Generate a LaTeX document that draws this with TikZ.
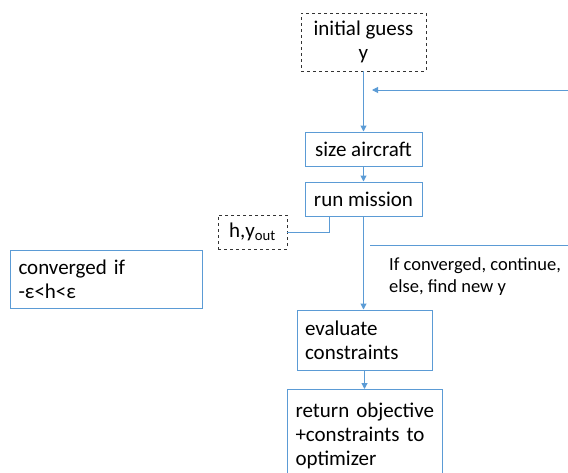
\documentclass[tikz,border=0pt]{standalone}
\usepackage{fontspec}
\setmainfont{Carlito}
\usetikzlibrary{arrows.meta}
\definecolor{linkblue}{RGB}{91,155,213}
\tikzset{
  box/.style={draw=linkblue,line width=1pt,inner sep=8pt,font=\fontsize{21}{24}\selectfont},
  dashbox/.style={draw=black!80,dashed,line width=0.9pt,inner sep=6pt,font=\fontsize{21}{24}\selectfont},
  link/.style={draw=linkblue,line width=1pt},
  arrow/.style={link,-{Triangle[length=6pt,width=6pt]}}
}
\begin{document}
\begin{tikzpicture}[x=1pt,y=-1pt]
\clip (0,0) rectangle (568,472);
\path (568,90) coordinate (backin) (372,90) coordinate (backend) (370,245) coordinate (decide) (568,245) coordinate (decideend);
\node[dashbox,minimum width=125pt,minimum height=58pt,align=center] (guess) at (363.5,42) {initial guess\\y};
\node[box,minimum width=117pt,minimum height=34pt] (size) at (363.5,149) {size aircraft};
\node[box,minimum width=117pt,minimum height=34pt] (run) at (363.5,199) {run mission};
\node[dashbox,minimum width=69pt,minimum height=34pt] (hy) at (252.5,232) {h,y\textsubscript{out}};
\node[box,minimum width=192pt,minimum height=58pt,text width=175pt,align=left] (conv) at (106,279) {converged if\\-ε<h<ε};
\node[box,minimum width=135pt,minimum height=60pt,text width=119pt,align=left] (eval) at (364.5,340) {evaluate\\constraints};
\node[box,anchor=north west,minimum width=155pt,minimum height=92pt,text width=139pt,align=left] (ret) at (287,389) {return objective\\+constraints to\\optimizer};
\node[anchor=north west,inner sep=0pt,align=left,font=\fontsize{18.5}{22}\selectfont] (note) at (389,257) {If converged, continue,\\else, find new y};
\draw[arrow] (guess.south) -- (guess.south |- size.north);
\draw[arrow] (backin) -- (backend);
\draw[arrow] (size) -- (run);
\draw[link] (run.south west) ++(25,0) |- (hy.east);
\draw[arrow] (run.south) -- (run.south |- eval.north);
\draw[link] (decide) -- (decideend);
\draw[arrow] (eval.south) -- (eval.south |- ret.north);
\end{tikzpicture}
\end{document}
